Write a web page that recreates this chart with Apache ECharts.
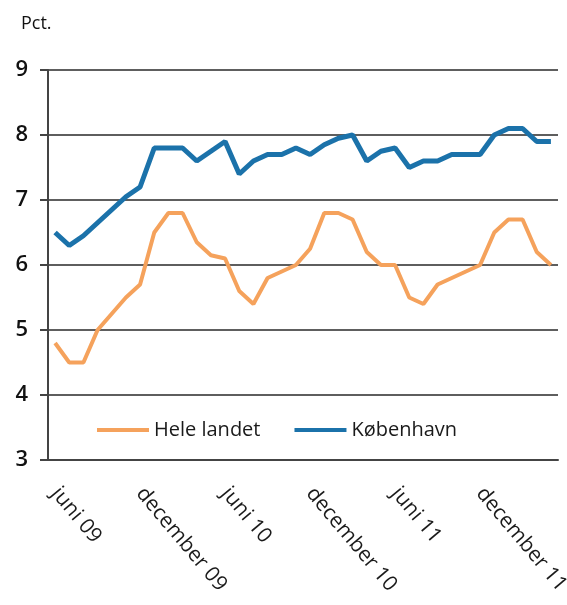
<!DOCTYPE html>
<html>
<head>
<meta charset="utf-8">
<script src="https://cdn.jsdelivr.net/npm/echarts@6/dist/echarts.min.js"></script>
<style>
  html, body { margin: 0; padding: 0; background: #fff; }
  #chart { width: 567px; height: 605px; }
</style>
</head>
<body>
<div id="chart"></div>
<script>
// monthly, juni 09 .. maj 12
const monthNames = ["januar", "februar", "marts", "april", "maj", "juni", "juli",
  "august", "september", "oktober", "november", "december"];
const months = [];
for (let k = 0; k < 36; k++) {
  const m = (5 + k) % 12;
  const y = 9 + Math.floor((5 + k) / 12);
  months.push(monthNames[m] + " " + String(y).padStart(2, "0"));
}

const heleLandet = [4.8, 4.5, 4.5, 5.0, 5.25, 5.5, 5.7, 6.5, 6.8, 6.8, 6.35, 6.15,
  6.1, 5.6, 5.4, 5.8, 5.9, 6.0, 6.25, 6.8, 6.8, 6.7, 6.2, 6.0,
  6.0, 5.5, 5.4, 5.7, 5.8, 5.9, 6.0, 6.5, 6.7, 6.7, 6.2, 6.0];
const koebenhavn = [6.5, 6.3, 6.45, 6.65, 6.85, 7.05, 7.2, 7.8, 7.8, 7.8, 7.6, 7.75,
  7.9, 7.4, 7.6, 7.7, 7.7, 7.8, 7.7, 7.85, 7.95, 8.0, 7.6, 7.75,
  7.8, 7.5, 7.6, 7.6, 7.7, 7.7, 7.7, 8.0, 8.1, 8.1, 7.9, 7.9];

const font = "Open Sans";
const chart = echarts.init(document.getElementById("chart"));

const option = {
  animation: false,
  title: {
    text: "Pct.",
    left: 16,
    top: 10,
    textStyle: { fontFamily: font, fontSize: 18, fontWeight: "normal", color: "#111" }
  },
  grid: { left: 48, right: 9, top: 70, bottom: 145, outerBoundsMode: "none" },
  legend: {
    left: 92,
    top: 415,
    icon: "rect",
    itemWidth: 52,
    itemHeight: 4,
    itemGap: 34,
    textStyle: { fontFamily: font, fontSize: 20, color: "#1a1a1a" },
    data: ["Hele landet", "København"]
  },
  xAxis: {
    type: "category",
    data: months,
    boundaryGap: true,
    axisLine: { lineStyle: { color: "#444", width: 2 } },
    axisTick: { interval: 5, length: 6, lineStyle: { color: "#444", width: 2 } },
    axisLabel: {
      interval: 5,
      rotate: -50,
      margin: 30,
      hideOverlap: false,
      fontFamily: font,
      fontSize: 21,
      color: "#1a1a1a"
    },
    splitLine: { show: false }
  },
  yAxis: {
    type: "value",
    min: 3,
    max: 9,
    interval: 1,
    axisLine: { show: true, lineStyle: { color: "#444", width: 2 } },
    axisTick: { show: true, length: 8, lineStyle: { color: "#444", width: 2 } },
    axisLabel: { margin: 20, fontFamily: font, fontSize: 22, fontWeight: 600, color: "#111" },
    splitLine: { lineStyle: { color: "#5e5e5e", width: 2 } }
  },
  series: [
    {
      name: "Hele landet",
      type: "line",
      data: heleLandet,
      symbol: "none",
      itemStyle: { color: "#f5a25c" },
      lineStyle: { color: "#f5a25c", width: 4 }
    },
    {
      name: "København",
      type: "line",
      data: koebenhavn,
      symbol: "none",
      itemStyle: { color: "#1b72aa" },
      lineStyle: { color: "#1b72aa", width: 5 }
    }
  ]
};

chart.setOption(option);
</script>
</body>
</html>
